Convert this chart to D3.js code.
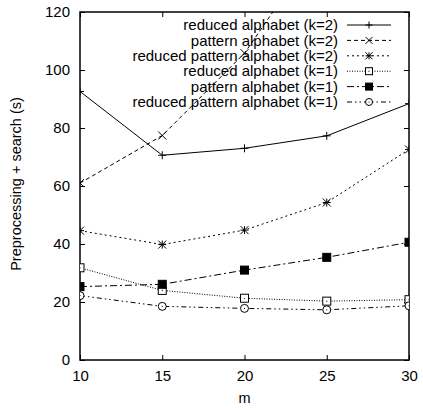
<!DOCTYPE html>
<meta charset="utf-8">
<style>
body { margin: 0; background: #fff; }
text { font-family: "Liberation Sans", Arial, sans-serif; fill: #000; }
</style>
<body>
<svg width="423" height="408"></svg>
<script src="https://d3js.org/d3.v7.min.js"></script>
<script>
// values
var mValues = [10, 15, 20, 25, 30];
var yTicks = [0, 20, 40, 60, 80, 100, 120];
var seriesNames = [
  "reduced alphabet (k=2)",
  "pattern alphabet (k=2)",
  "reduced pattern alphabet (k=2)",
  "reduced alphabet (k=1)",
  "pattern alphabet (k=1)",
  "reduced pattern alphabet (k=1)"
];
var reducedK2 = [92.6, 70.6, 73, 77.3, 88.4];
var patternK2 = [61, 77.4, 105.8, 147, 190];
var reducedPatternK2 = [44.6, 39.8, 44.8, 54.3, 72.6];
var reducedK1 = [31.8, 24, 21.3, 20.3, 20.8];
var patternK1 = [25.3, 26.1, 31, 35.4, 40.6];
var reducedPatternK1 = [22.2, 18.5, 17.8, 17.3, 18.7];

var allSeries = [reducedK2, patternK2, reducedPatternK2, reducedK1, patternK1, reducedPatternK1];
var dashes = ["none", "4,3", "2,3", "1,1.5", "7,3,2,3", "5,3,1.5,3,1.5,3"];
var symbols = ["plus", "cross", "star", "square", "filled", "circle"];

var svg = d3.select("svg"),
    margin = {top: 12, right: 14, bottom: 48, left: 80},
    width = 423 - margin.left - margin.right,
    height = 408 - margin.top - margin.bottom;

var x = d3.scaleLinear().domain([10, 30]).range([0, width]);
var y = d3.scaleLinear().domain([0, 120]).range([height, 0]);

svg.append("defs").append("clipPath").attr("id", "clip")
  .append("rect").attr("width", width).attr("height", height);

var g = svg.append("g")
    .attr("transform", "translate(" + margin.left + "," + margin.top + ")");

// axes with mirrored inward ticks (gnuplot style)
var tickLen = 5;
g.append("g")
    .attr("transform", "translate(0," + height + ")")
    .call(d3.axisBottom(x).tickValues(mValues).tickSize(-tickLen).tickPadding(10))
    .call(function(a) { a.select(".domain").remove(); });
g.append("g")
    .call(d3.axisTop(x).tickValues(mValues).tickSize(-tickLen).tickFormat(""))
    .call(function(a) { a.select(".domain").remove(); });
g.append("g")
    .call(d3.axisLeft(y).tickValues(yTicks).tickSize(-tickLen).tickPadding(10))
    .call(function(a) { a.select(".domain").remove(); });
g.append("g")
    .attr("transform", "translate(" + width + ",0)")
    .call(d3.axisRight(y).tickValues(yTicks).tickSize(-tickLen).tickFormat(""))
    .call(function(a) { a.select(".domain").remove(); });
g.selectAll(".tick text").style("font-size", "15px").style("font-family", "Liberation Sans, Arial, sans-serif");
g.selectAll(".tick line").attr("stroke", "#000");

g.append("rect")
    .attr("width", width).attr("height", height)
    .attr("fill", "none").attr("stroke", "#000").attr("stroke-width", 1.5);

function drawSymbol(sel, kind, cx, cy, s) {
  if (kind === "plus" || kind === "star") {
    sel.append("path").attr("d", "M" + (cx - s) + "," + cy + "H" + (cx + s) + "M" + cx + "," + (cy - s) + "V" + (cy + s))
      .attr("stroke", "#000").attr("fill", "none");
  }
  if (kind === "cross" || kind === "star") {
    sel.append("path").attr("d", "M" + (cx - s) + "," + (cy - s) + "L" + (cx + s) + "," + (cy + s) + "M" + (cx - s) + "," + (cy + s) + "L" + (cx + s) + "," + (cy - s))
      .attr("stroke", "#000").attr("fill", "none");
  }
  if (kind === "square" || kind === "filled") {
    sel.append("rect").attr("x", cx - s).attr("y", cy - s).attr("width", 2 * s).attr("height", 2 * s)
      .attr("stroke", "#000").attr("fill", kind === "filled" ? "#000" : "#fff");
    if (kind === "square") sel.append("circle").attr("cx", cx).attr("cy", cy).attr("r", 0.6).attr("fill", "#000");
  }
  if (kind === "circle") {
    sel.append("circle").attr("cx", cx).attr("cy", cy).attr("r", s)
      .attr("stroke", "#000").attr("fill", "#fff");
    sel.append("circle").attr("cx", cx).attr("cy", cy).attr("r", 0.6).attr("fill", "#000");
  }
}

var line = d3.line()
    .x(function(d, i) { return x(mValues[i]); })
    .y(function(d) { return y(d); });

var plot = g.append("g").attr("clip-path", "url(#clip)");
allSeries.forEach(function(vals, k) {
  plot.append("path")
      .datum(vals)
      .attr("d", line)
      .attr("fill", "none")
      .attr("stroke", "#000")
      .attr("stroke-width", 1)
      .attr("stroke-dasharray", dashes[k]);
});
allSeries.forEach(function(vals, k) {
  var pg = plot.append("g");
  vals.forEach(function(v, i) {
    if (v <= 120) drawSymbol(pg, symbols[k], x(mValues[i]), y(v), 4);
  });
});

// legend
var legend = svg.append("g");
seriesNames.forEach(function(name, k) {
  var ly = 25 + k * 15.4;
  legend.append("text")
      .attr("x", 338).attr("y", ly).attr("dy", "0.35em")
      .attr("text-anchor", "end")
      .style("font-size", "15px")
      .text(name);
  legend.append("line")
      .attr("x1", 347).attr("x2", 391).attr("y1", ly).attr("y2", ly)
      .attr("stroke", "#000").attr("stroke-dasharray", dashes[k]);
  drawSymbol(legend, symbols[k], 369, ly, 3.5);
});

// axis titles
svg.append("text")
    .attr("x", margin.left + width / 2).attr("y", 403)
    .attr("text-anchor", "middle")
    .style("font-size", "14.5px")
    .text("m");
svg.append("text")
    .attr("transform", "translate(21,184) rotate(-90)")
    .attr("text-anchor", "middle")
    .style("font-size", "14.5px")
    .text("Preprocessing + search (s)");
</script>
</body>
